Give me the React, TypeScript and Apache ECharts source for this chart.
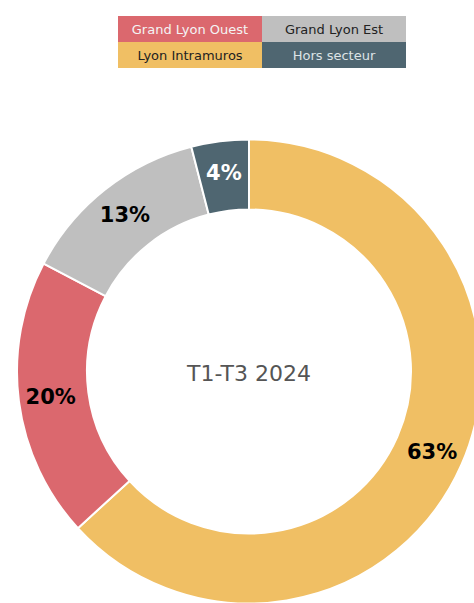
import React, { useEffect, useRef } from "react";
import * as echarts from "echarts";

const categories = ["Lyon Intramuros", "Grand Lyon Ouest", "Grand Lyon Est", "Hors secteur"];
const values = [63.2, 19.5, 13.3, 4.0];
const colors = ["#F0BF64", "#DB686E", "#BFBFBF", "#4F6671"];
const labelColors = ["#000000", "#000000", "#000000", "#FFFFFF"];
const legendOrder = ["Grand Lyon Ouest", "Grand Lyon Est", "Lyon Intramuros", "Hors secteur"];
const legendTextColors = ["#F4F4F4", "#222222", "#222222", "#DDE3E6"];
const centerTitle = "T1-T3 2024";

const FONT = "'DejaVu Sans', sans-serif";

export default function App() {
  const ref = useRef<HTMLDivElement>(null);
  useEffect(() => {
    if (!ref.current) return;
    const chart = echarts.init(ref.current, undefined, { renderer: "svg" });
    const boxW = 144;
    const boxH = 26;
    const left0 = 118;
    const top0 = 16;
    const legendGraphics = legendOrder.map((name, i) => {
      const idx = categories.indexOf(name);
      const col = i % 2;
      const row = Math.floor(i / 2);
      return {
        type: "group",
        left: left0 + col * boxW,
        top: top0 + row * boxH,
        children: [
          {
            type: "rect",
            shape: { x: 0, y: 0, width: boxW, height: boxH },
            style: { fill: colors[idx] },
          },
          {
            type: "text",
            x: boxW / 2,
            y: boxH / 2,
            style: {
              text: name,
              fill: legendTextColors[i],
              font: `13px ${FONT}`,
              align: "center",
              verticalAlign: "middle",
            },
          },
        ],
      };
    });
    chart.setOption({
      animation: false,
      graphic: [
        ...legendGraphics,
        {
          type: "text",
          x: 249,
          y: 373,
          style: {
            text: centerTitle,
            fill: "#555555",
            font: `22px ${FONT}`,
            align: "center",
            verticalAlign: "middle",
          },
        },
      ],
      series: [
        {
          type: "pie",
          center: [249, 371.5],
          radius: [162, 232],
          startAngle: 90,
          clockwise: true,
          avoidLabelOverlap: false,
          itemStyle: { borderColor: "#ffffff", borderWidth: 2 },
          label: {
            show: true,
            position: "inside",
            formatter: (p: any) => `${Math.round(p.value)}%`,
            fontFamily: FONT,
            fontWeight: "bold",
            fontSize: 21,
          },
          labelLine: { show: false },
          emphasis: { disabled: true },
          data: categories.map((c, i) => ({
            name: c,
            value: values[i],
            itemStyle: { color: colors[i] },
            label: { color: labelColors[i] },
          })),
        },
      ],
    });
    return () => chart.dispose();
  }, []);
  return (
    <div
      ref={ref}
      style={{ position: "fixed", left: 0, top: 0, width: 474, height: 603, background: "#ffffff" }}
    />
  );
}
